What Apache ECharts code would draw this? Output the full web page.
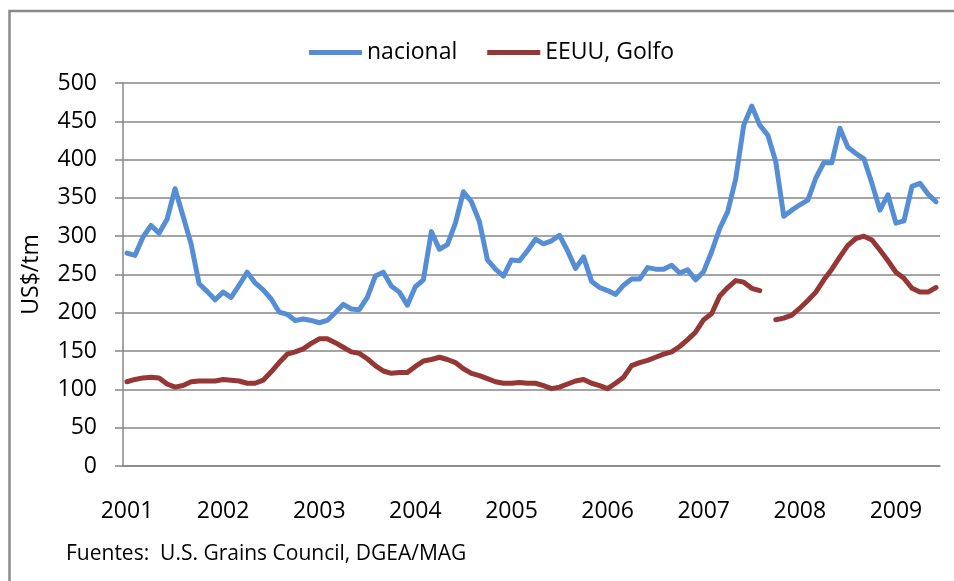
<!DOCTYPE html>
<html>
<head>
	<meta charset="utf-8">
	<title>nacional vs EEUU, Golfo</title>
	<script src="https://cdn.jsdelivr.net/npm/echarts@6/dist/echarts.min.js"></script>
	<style>
		html, body { margin: 0; padding: 0; background: #fff; }
		#chart { width: 954px; height: 581px; }
	</style>
</head>
<body>
	<div id="chart"></div>
	<script>
		// años del eje x (una etiqueta cada 12 meses)
		var years = ['2001', '2002', '2003', '2004', '2005', '2006', '2007', '2008', '2009'];
		var monthCount = 102; // ene 2001 - jun 2009

		var nacional = [
			278, 275, 299, 314, 304, 322, 362, 326, 290, 238, 228, 217,
			227, 220, 236, 253, 239, 230, 218, 201, 198, 190, 192, 190,
			187, 190, 200, 211, 205, 204, 220, 248, 253, 235, 227, 210,
			234, 243, 306, 283, 289, 317, 358, 345, 319, 269, 257, 248,
			269, 268, 281, 296, 290, 294, 301, 281, 258, 273, 241, 233,
			229, 224, 236, 244, 244, 259, 257, 257, 262, 252, 256, 243,
			254, 280, 310, 332, 375, 445, 470, 445, 432, 397, 326, 334,
			341, 347, 376, 396, 396, 441, 416, 408, 401, 369, 334, 354,
			317, 320, 365, 369, 355, 345
		];

		var golfo = [
			110, 113, 115, 116, 115, 107, 103, 105, 110, 111, 111, 111,
			113, 112, 111, 108, 108, 112, 123, 135, 146, 149, 153, 160,
			166, 166, 161, 155, 149, 147, 140, 131, 124, 121, 122, 122,
			130, 137, 139, 142, 139, 135, 127, 121, 118, 114, 110, 108,
			108, 109, 108, 108, 105, 101, 103, 107, 111, 113, 108, 105,
			101, 108, 116, 131, 135, 138, 142, 146, 149, 156, 165, 175,
			191, 199, 222, 233, 242, 240, 232, 229, null, 191, 193, 197,
			206, 216, 227, 243, 257, 273, 288, 297, 300, 295, 282, 268,
			253, 245, 232, 227, 227, 233
		];

		var seriesNames = ['nacional', 'EEUU, Golfo'];
		var seriesColors = ['#558ed5', '#953735'];

		var months = [];
		for (var i = 0; i < monthCount; i++) {
			var y = years[0] * 1 + Math.floor(i / 12);
			var m = (i % 12) + 1;
			months.push(y + '-' + (m < 10 ? '0' + m : m));
		}

		var font = '"Open Sans", "DejaVu Sans", sans-serif';
		var gray = '#878787';

		var chart = echarts.init(document.getElementById('chart'));
		chart.setOption({
			animation: false,
			textStyle: { fontFamily: font },
			color: seriesColors,
			legend: {
				top: 36,
				left: 304,
				icon: 'rect',
				itemWidth: 53,
				itemHeight: 5,
				itemGap: 30,
				textStyle: { fontSize: 23, color: '#000', fontFamily: font },
				data: seriesNames
			},
			grid: {
				left: 123,
				right: 14,
				top: 83,
				bottom: 115
			},
			xAxis: {
				type: 'category',
				data: months,
				boundaryGap: true,
				axisLine: { lineStyle: { color: gray, width: 1.5 } },
				axisTick: { interval: 11, length: 7, lineStyle: { color: gray, width: 1.5 } },
				axisLabel: {
					interval: 11,
					margin: 34,
					fontSize: 23,
					color: '#000',
					formatter: function (v) { return v.slice(0, 4); }
				}
			},
			yAxis: {
				type: 'value',
				min: 0,
				max: 500,
				interval: 50,
				name: 'US$/tm',
				nameLocation: 'middle',
				nameGap: 80,
				nameTextStyle: { fontSize: 23, color: '#000' },
				axisLine: { show: true, lineStyle: { color: gray, width: 1.5 } },
				axisTick: { show: true, length: 8, lineStyle: { color: gray, width: 1.5 } },
				axisLabel: { margin: 26, fontSize: 23, color: '#000' },
				splitLine: { lineStyle: { color: gray, width: 1.5 } }
			},
			series: [
				{
					name: seriesNames[0],
					type: 'line',
					data: nacional,
					symbol: 'none',
					lineStyle: { width: 5, join: 'round', cap: 'round' }
				},
				{
					name: seriesNames[1],
					type: 'line',
					data: golfo,
					symbol: 'none',
					connectNulls: false,
					lineStyle: { width: 5, join: 'round', cap: 'round' }
				}
			],
			graphic: [
				{
					type: 'rect',
					shape: { x: 9.5, y: 11, width: 1000, height: 1000 },
					style: { fill: 'none', stroke: '#8a8a8a', lineWidth: 2.5 },
					silent: true
				},
				{
					type: 'text',
					left: 66,
					top: 544,
					style: {
						text: 'Fuentes:  U.S. Grains Council, DGEA/MAG',
						font: '21px ' + font,
						fill: '#000'
					}
				}
			]
		});
	</script>
</body>
</html>
